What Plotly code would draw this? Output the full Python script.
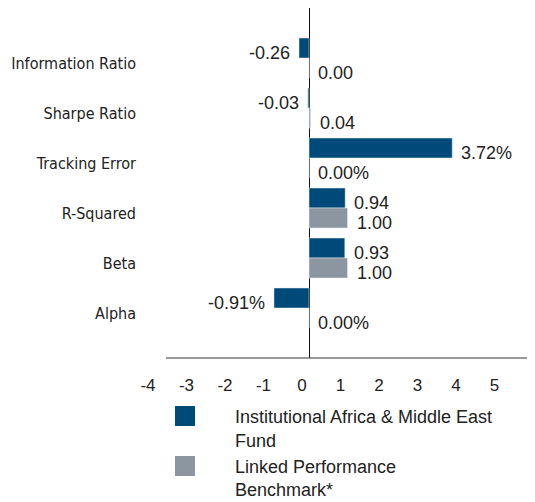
import plotly.graph_objects as go

categories = ["Information Ratio", "Sharpe Ratio", "Tracking Error", "R-Squared", "Beta", "Alpha"]
fund_values = [-0.26, -0.03, 3.72, 0.94, 0.93, -0.91]
bench_values = [0.00, 0.04, 0.00, 1.00, 1.00, 0.00]
fund_labels = ["-0.26", "-0.03", "3.72%", "0.94", "0.93", "-0.91%"]
bench_labels = ["0.00", "0.04", "0.00%", "1.00", "1.00", "0.00%"]
series_names = ["Institutional Africa & Middle East<br>Fund", "Linked Performance<br>Benchmark*"]
x_ticks = [-4, -3, -2, -1, 0, 1, 2, 3, 4, 5, 6]

FUND_COLOR = "#004a7a"
BENCH_COLOR = "#8c96a1"
TEXT_COLOR = "#222222"
XMIN, XMAX = -4, 6
BARGAP = 0.2

fig = go.Figure()
fig.add_trace(go.Bar(y=categories, x=fund_values, orientation="h", marker_color=FUND_COLOR,
                     showlegend=False, hoverinfo="skip"))
fig.add_trace(go.Bar(y=categories, x=bench_values, orientation="h", marker_color=BENCH_COLOR,
                     showlegend=False, hoverinfo="skip"))

# legend proxies
for name, col in zip(series_names, [FUND_COLOR, BENCH_COLOR]):
    fig.add_trace(go.Scatter(x=[None], y=[None], mode="markers", name=name,
                             marker=dict(symbol="square", size=16, color=col,
                                         line=dict(color=col, width=4))))

# value labels
bw = (1 - BARGAP) / 2
for vals, labs, off in [(fund_values, fund_labels, -bw / 2), (bench_values, bench_labels, bw / 2)]:
    for j, (v, t) in enumerate(zip(vals, labs)):
        neg = v < 0
        fig.add_annotation(x=v, y=j + off, xref="x", yref="y", text=t, showarrow=False,
                           xanchor="right" if neg else "left", xshift=-7 if neg else 7, yshift=-5,
                           font=dict(family="Liberation Sans, Arial, sans-serif", size=18, color=TEXT_COLOR))

# bottom axis line
fig.add_shape(type="line", xref="paper", yref="paper", x0=0.0286, x1=1, y0=0, y1=0,
              line=dict(color="#333333", width=1))

fig.update_layout(
    width=535, height=502,
    margin=dict(l=147, r=3, t=0, b=152, autoexpand=False),
    barmode="group", bargap=BARGAP, bargroupgap=0,
    plot_bgcolor="white", paper_bgcolor="white",
    font=dict(family="Liberation Sans, Arial, sans-serif", size=17, color=TEXT_COLOR),
    xaxis=dict(range=[XMIN, XMAX], tickvals=x_ticks, ticktext=[str(t) for t in x_ticks],
               showgrid=False, showline=False, zeroline=True, zerolinecolor="#111111", zerolinewidth=1,
               ticks="", ticklabelshift=-7, ticklabelstandoff=15, automargin=False,
               tickfont=dict(size=17, color=TEXT_COLOR), fixedrange=True),
    yaxis=dict(type="category", categoryorder="array", categoryarray=categories,
               range=[len(categories), -1], showgrid=False, showline=False, zeroline=False,
               ticks="", ticklabelstandoff=18, ticklabelshift=-5, automargin=False,
               tickfont=dict(family="Liberation Sans Narrow, DejaVu Sans Condensed, Liberation Sans, sans-serif",
                             size=16, color=TEXT_COLOR),
               fixedrange=True),
    legend=dict(x=(127 - 147) / 385, xanchor="left", y=-0.114, yanchor="top",
                itemwidth=90, valign="top", font=dict(size=18, color=TEXT_COLOR),
                bgcolor="rgba(0,0,0,0)", itemclick=False, itemdoubleclick=False),
    showlegend=True,
)

fig.write_html("out.html")
